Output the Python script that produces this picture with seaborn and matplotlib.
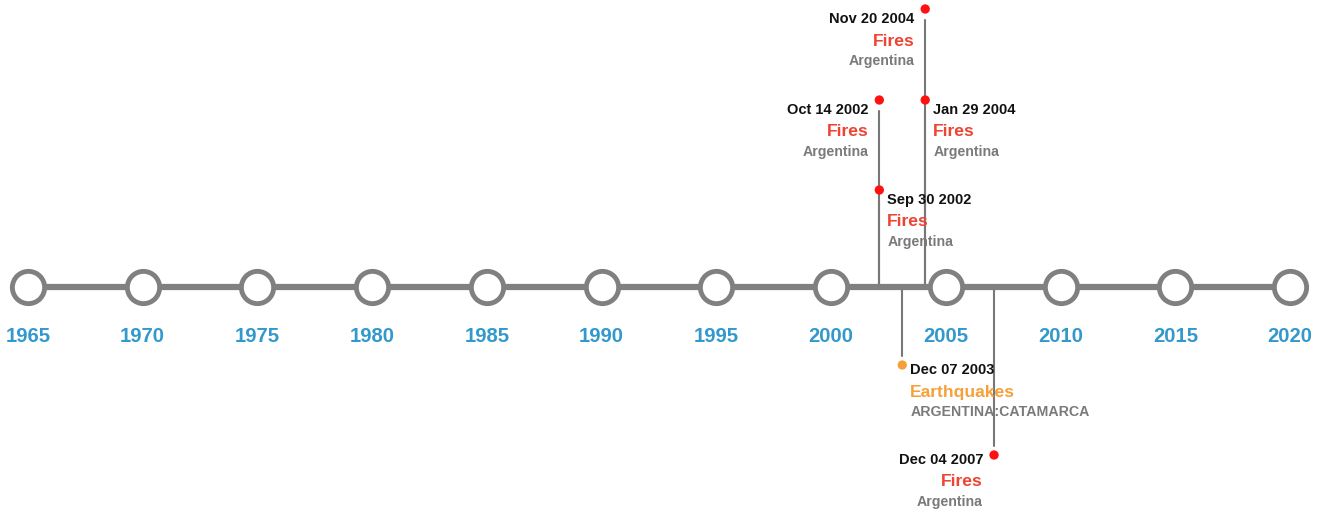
import matplotlib
matplotlib.use("Agg")
import matplotlib.pyplot as plt
import seaborn as sns
import pandas as pd

# ---- data ----
tick_years = [1965, 1970, 1975, 1980, 1985, 1990, 1995, 2000, 2005, 2010, 2015, 2020]
event_dates = ["Nov 20 2004", "Oct 14 2002", "Jan 29 2004", "Sep 30 2002", "Dec 07 2003", "Dec 04 2007"]
event_pos = [2004.1, 2002.1, 2004.1, 2002.1, 2003.1, 2007.1]   # position on the axis (by year)
event_types = ["Fires", "Fires", "Fires", "Fires", "Earthquakes", "Fires"]
event_places = ["Argentina", "Argentina", "Argentina", "Argentina", "ARGENTINA:CATAMARCA", "Argentina"]
event_lane = [3, 2, 2, 1, -1, -2]
event_side = ["left", "left", "right", "right", "right", "left"]

# ---- styles ----
AXIS_Y = 287
lane_offset = {3: -278, 2: -187, 1: -97, -1: 78, -2: 168}
type_color = {"Fires": "#ee4433", "Earthquakes": "#f7a03a"}
dot_color = {"Fires": "#ff1111", "Earthquakes": "#f7a03a"}
GRAY = "#808080"
BLUE = "#3399cc"

sns.set_theme(style="white")
plt.rcParams["font.family"] = ["Liberation Sans", "DejaVu Sans"]

fig = plt.figure(figsize=(13.27, 5.12), dpi=100)
ax = fig.add_axes([0, 0, 1, 1])
ax.set_xlim(1963.78, 2021.61)
ax.set_ylim(512, 0)
ax.axis("off")

ticks = pd.DataFrame({"year": tick_years, "y": [AXIS_Y] * len(tick_years)})
ev = pd.DataFrame({"date": event_dates, "x": event_pos, "type": event_types,
                   "place": event_places, "lane": event_lane, "side": event_side})
ev["y"] = [AXIS_Y + lane_offset[l] for l in ev["lane"]]

# stems (drawn below the axis line)
for _, r in ev.iterrows():
    if r["y"] < AXIS_Y:
        ax.plot([r["x"], r["x"]], [r["y"] + 11, AXIS_Y], color="#777777", lw=1.5, zorder=1)
    else:
        ax.plot([r["x"], r["x"]], [AXIS_Y, r["y"] - 9], color="#777777", lw=1.5, zorder=1)

# main axis line
sns.lineplot(data=ticks, x="year", y="y", ax=ax, color=GRAY, lw=4.5, zorder=2, sort=True)

# year circles
sns.scatterplot(data=ticks, x="year", y="y", ax=ax, s=540, color="white",
                edgecolor=GRAY, linewidth=3.5, zorder=3, legend=False)

# event dots
sns.scatterplot(data=ev, x="x", y="y", hue="type", palette=dot_color, ax=ax, s=45,
                edgecolor="none", zorder=4, legend=False)

# year labels
for yr in tick_years:
    ax.text(yr, 336, str(yr), ha="center", va="center", fontsize=14.6, fontweight="bold",
            color=BLUE, zorder=5)

# event labels
px = (2021.61 - 1963.78) / 1327.0
for _, r in ev.iterrows():
    if r["side"] == "left":
        tx, ha = r["x"] - 11 * px, "right"
    else:
        tx, ha = r["x"] + 8 * px, "left"
    base = r["y"] + (10 if r["y"] < AXIS_Y else 5)
    ax.text(tx, base, r["date"], ha=ha, va="center", fontsize=10.5,
            fontweight="bold", color="#111111", zorder=5)
    ax.text(tx, base + 22, r["type"], ha=ha, va="center", fontsize=12.6,
            fontweight="bold", color=type_color[r["type"]], zorder=5)
    ax.text(tx, base + 42, r["place"], ha=ha, va="center", fontsize=10.2,
            fontweight="bold", color="#7a7a7a", zorder=5)

fig.savefig("out.png", dpi=100)
